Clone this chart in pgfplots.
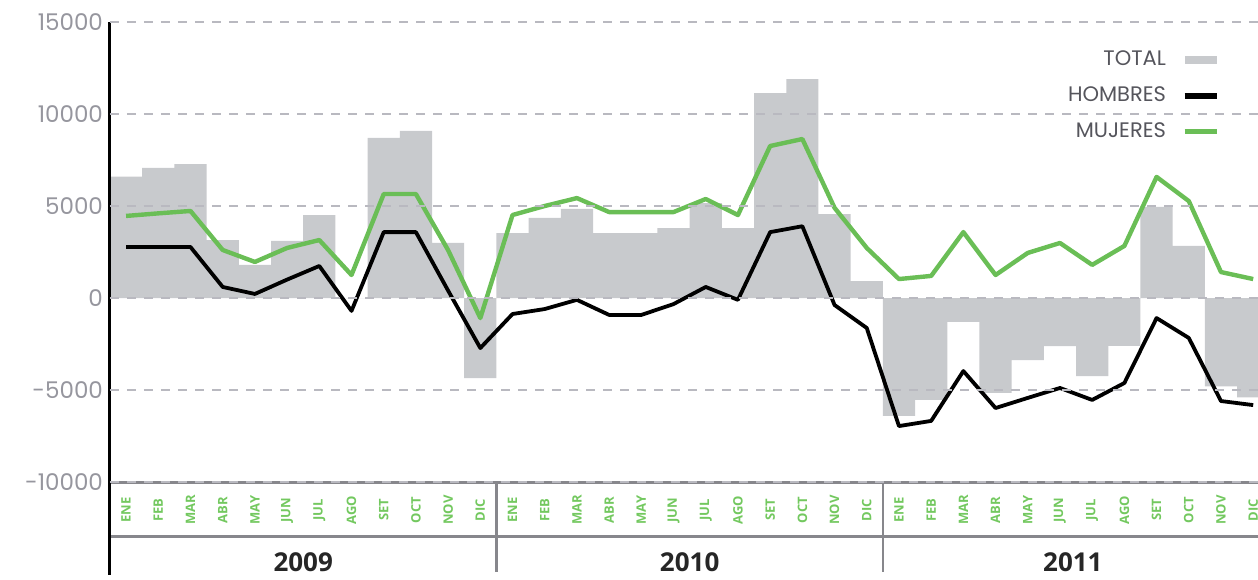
\documentclass[border=0pt]{standalone}
\usepackage{pgfplots}
\pgfplotsset{compat=1.18}
\usepackage{fontspec}
\setmainfont{Poppins}
\newfontfamily\yearfont{Open Sans}
\newfontfamily\monthfont{Open Sans}
\definecolor{bargrey}{RGB}{200,202,205}
\definecolor{mgreen}{RGB}{106,190,86}
\definecolor{lblgreen}{RGB}{115,200,95}
\definecolor{tickgrey}{RGB}{150,150,158}
\definecolor{gridgrey}{RGB}{185,185,192}
\definecolor{bandgrey}{RGB}{135,135,140}
\definecolor{legtext}{RGB}{85,85,92}
\begin{document}
\begin{tikzpicture}
\begin{axis}[
  scale only axis, width=574pt, height=230pt,
  xmin=-0.5, xmax=35.15, ymin=-10000, ymax=15000,
  clip mode=individual,
  axis line style={draw=none},
  tick style={draw=none},
  major tick length=0pt,
  axis on top,
  ytick={-10000,-5000,0,5000,10000,15000},
  scaled y ticks=false,
  yticklabel style={text=tickgrey, font=\fontsize{11.5}{11.5}\selectfont},
  /pgf/number format/1000 sep={},
  /pgf/number format/assume math mode=true,
  ymajorgrids,
  grid style={gridgrey, line width=0.8pt, dash pattern=on 4.5pt off 4pt},
  xtick={0,...,35},
  xticklabels={ENE,FEB,MAR,ABR,MAY,JUN,JUL,AGO,SET,OCT,NOV,DIC,
               ENE,FEB,MAR,ABR,MAY,JUN,JUL,AGO,SET,OCT,NOV,DIC,
               ENE,FEB,MAR,ABR,MAY,JUN,JUL,AGO,SET,OCT,NOV,DIC},
  xticklabel style={text=lblgreen, font=\monthfont\bfseries\fontsize{6.5}{6.5}\selectfont, anchor=center, yshift=-14pt, rotate=90},
  legend style={at={(0.972,0.955)}, anchor=north east, draw=none, fill=none,
     font=\fontsize{10.5}{10.5}\selectfont, text=legtext, row sep=5pt, /tikz/column sep=6pt},
  legend cell align=right,
  legend plot pos=right,
]
\addplot[ybar, bar width=1, bar shift=0pt, fill=bargrey, draw=none,
  legend image code/.code={\fill[bargrey] (0pt,-2pt) rectangle (16pt,2pt);}]
coordinates {
(0,6600) (1,7070) (2,7280) (3,3150) (4,1800) (5,3100) (6,4500) (7,0) (8,8700) (9,9080) (10,3000) (11,-4350)
(12,3530) (13,4350) (14,4840) (15,3530) (16,3530) (17,3800) (18,5160) (19,3800) (20,11140) (21,11900) (22,4560) (23,920)
(24,-6400) (25,-5530) (26,-1300) (27,-5160) (28,-3370) (29,-2610) (30,-4240) (31,-2600) (32,4950) (33,2830) (34,-4800) (35,-5400)
};
\addlegendentry{TOTAL}
\addplot[black, line width=1.9pt, line join=round,
  legend image code/.code={\draw[black, line width=2.8pt] (0pt,0pt) -- (16pt,0pt);}]
coordinates {
(0,2770) (1,2770) (2,2770) (3,600) (4,220) (5,1000) (6,1740) (7,-700) (8,3580) (9,3580) (10,400) (11,-2720)
(12,-870) (13,-600) (14,-100) (15,-920) (16,-920) (17,-330) (18,600) (19,-100) (20,3580) (21,3900) (22,-380) (23,-1630)
(24,-6960) (25,-6680) (26,-3970) (27,-5980) (28,-5430) (29,-4890) (30,-5540) (31,-4620) (32,-1090) (33,-2170) (34,-5600) (35,-5820)
};
\addlegendentry{HOMBRES}
\addplot[mgreen, line width=2.2pt, line join=round,
  legend image code/.code={\draw[mgreen, line width=2.8pt] (0pt,0pt) -- (16pt,0pt);}]
coordinates {
(0,4460) (1,4600) (2,4730) (3,2610) (4,1960) (5,2720) (6,3150) (7,1250) (8,5650) (9,5650) (10,2600) (11,-1090)
(12,4510) (13,5000) (14,5430) (15,4670) (16,4670) (17,4670) (18,5380) (19,4510) (20,8260) (21,8640) (22,4900) (23,2720)
(24,1030) (25,1200) (26,3580) (27,1250) (28,2450) (29,2990) (30,1800) (31,2830) (32,6580) (33,5270) (34,1410) (35,1030)
};
\addlegendentry{MUJERES}
\coordinate (axsw) at (rel axis cs:0,0);
\coordinate (axne) at (rel axis cs:1,1);
% bottom band
\draw[bandgrey, line width=1.5pt] (axis cs:-0.5,-10000) -- (axis cs:35.15,-10000);
\draw[bandgrey, line width=1.5pt] ([yshift=-27pt]axis cs:-0.5,-10000) -- ([yshift=-27pt]axis cs:35.15,-10000);
\draw[bandgrey, line width=1.2pt] (axis cs:11.5,-10000) -- ([yshift=-45pt]axis cs:11.5,-10000);
\draw[bandgrey, line width=1.2pt] (axis cs:23.5,-10000) -- ([yshift=-45pt]axis cs:23.5,-10000);
\draw[black, line width=1.5pt] (axis cs:-0.5,15000) -- ([yshift=-46.5pt]axis cs:-0.5,-10000);
\node[font=\yearfont\bfseries\fontsize{13}{13}\selectfont, text=black!85] at ([yshift=-40pt]axis cs:5.5,-10000) {2009};
\node[font=\yearfont\bfseries\fontsize{13}{13}\selectfont, text=black!85] at ([yshift=-40pt]axis cs:17.5,-10000) {2010};
\node[font=\yearfont\bfseries\fontsize{13}{13}\selectfont, text=black!85] at ([yshift=-40pt]axis cs:29.4,-10000) {2011};
\end{axis}
\pgfresetboundingbox
\path[use as bounding box] ([xshift=-55pt,yshift=-48.5pt]axsw) rectangle ([yshift=11pt]axne);
\end{tikzpicture}
\end{document}
